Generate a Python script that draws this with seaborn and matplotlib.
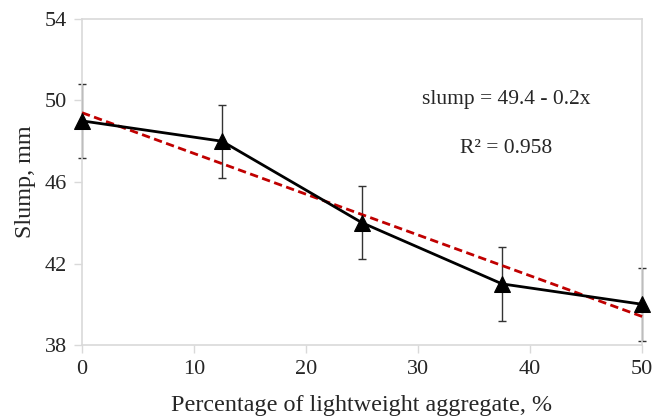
import numpy as np
import pandas as pd
import matplotlib
matplotlib.use("Agg")
import matplotlib.pyplot as plt
import seaborn as sns

# Slump test results versus lightweight aggregate replacement
lwa_pct = [0, 12.5, 25, 37.5, 50]
slump_mm = [49, 48, 44, 41, 40]
slump_err = [1.8, 1.8, 1.8, 1.8, 1.8]

x_ticks = [0, 10, 20, 30, 40, 50]
y_ticks = [38, 42, 46, 50, 54]

df = pd.DataFrame({"lwa": lwa_pct, "slump": slump_mm, "err": slump_err})

sns.set_theme(style="white")
plt.rcParams["font.family"] = ["Liberation Serif", "DejaVu Serif"]

fig = plt.figure(figsize=(6.52, 4.18), dpi=100)
ax = fig.add_axes([0.1258, 0.1746, 0.859, 0.78])

# linear trend
sns.regplot(data=df, x="lwa", y="slump", scatter=False, ci=None, ax=ax,
            line_kws=dict(color="#C00000", lw=2, ls=(0, (3, 1.6)), zorder=3,
                          clip_on=False))

# measured means with error bars
eb = ax.errorbar(df["lwa"], df["slump"], yerr=df["err"], fmt="none",
                 ecolor="#333333", elinewidth=1, capsize=3, capthick=1, zorder=2)
for art in eb.lines[1] + eb.lines[2]:
    art.set_clip_on(False)
sns.lineplot(data=df, x="lwa", y="slump", ax=ax, color="black", lw=2,
             marker="^", markersize=11, markeredgecolor="black",
             markerfacecolor="black", zorder=4, clip_on=False)

slope, intercept = np.polyfit(lwa_pct, slump_mm, 1)

ax.text(0.757, 0.752, f"slump = {intercept:.1f} - {abs(slope):.1f}x",
        transform=ax.transAxes, ha="center", va="center", fontsize=15.5)
ax.text(0.757, 0.604, "R² = 0.958",
        transform=ax.transAxes, ha="center", va="center", fontsize=15.5)

ax.set_xlim(0, 50)
ax.set_ylim(38, 54)
ax.set_xticks(x_ticks)
ax.set_yticks(y_ticks)
ax.tick_params(axis="both", which="both", direction="out", length=6,
               width=1, color="#d9d9d9", labelsize=16, pad=5,
               bottom=True, left=True)
for s in ax.spines.values():
    s.set_color("#d9d9d9")
    s.set_linewidth(1.2)

ax.set_xlabel("Percentage of lightweight aggregate, %", fontsize=17.4, labelpad=11)
ax.set_ylabel("Slump, mm", fontsize=17.4, labelpad=6)

fig.savefig("out.png", dpi=100)
